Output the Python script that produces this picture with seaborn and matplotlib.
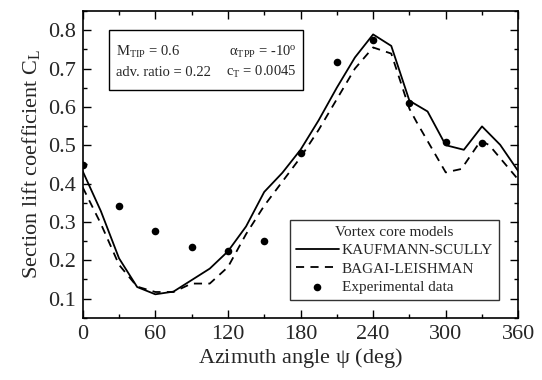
import matplotlib
matplotlib.use("Agg")
import matplotlib.pyplot as plt
import seaborn as sns
import pandas as pd
from matplotlib.patches import Rectangle
from matplotlib.ticker import MultipleLocator

# Data
ks_psi = [0, 15, 30, 45, 60, 75, 90, 105, 120, 135, 150, 165, 180, 195, 210, 225, 240, 255, 270, 285, 300, 315, 330, 345, 360]
ks_cl = [0.432, 0.328, 0.205, 0.130, 0.111, 0.118, 0.148, 0.178, 0.223, 0.288, 0.378, 0.428, 0.488, 0.565, 0.650, 0.729, 0.789, 0.759, 0.616, 0.588, 0.500, 0.488, 0.549, 0.501, 0.432]
bl_psi = [0, 15, 30, 45, 60, 75, 90, 105, 120, 135, 150, 165, 180, 195, 210, 225, 240, 255, 270, 276, 300, 313, 329, 336, 360]
bl_cl = [0.390, 0.295, 0.188, 0.131, 0.117, 0.117, 0.139, 0.139, 0.182, 0.268, 0.342, 0.405, 0.468, 0.540, 0.620, 0.700, 0.755, 0.739, 0.595, 0.560, 0.429, 0.438, 0.512, 0.500, 0.410]
exp_psi = [0, 30, 60, 90, 120, 150, 180, 210, 240, 270, 300, 330]
exp_cl = [0.449, 0.341, 0.276, 0.234, 0.223, 0.249, 0.480, 0.718, 0.774, 0.611, 0.509, 0.507]

sns.set_style("ticks")
plt.rcParams['font.family'] = ['Liberation Serif', 'DejaVu Serif']
plt.rcParams['mathtext.fontset'] = 'custom'
plt.rcParams['mathtext.rm'] = 'Liberation Serif'
plt.rcParams['mathtext.it'] = 'Liberation Serif:italic'
plt.rcParams['mathtext.sf'] = 'Liberation Serif'

fig = plt.figure(figsize=(5.42, 3.8), dpi=100)
ax = fig.add_axes([0.1526, 0.164, 0.8037, 0.807])

ks = pd.DataFrame({"psi": ks_psi, "cl": ks_cl})
bl = pd.DataFrame({"psi": bl_psi, "cl": bl_cl})
ex = pd.DataFrame({"psi": exp_psi, "cl": exp_cl})

sns.lineplot(data=ks, x="psi", y="cl", ax=ax, color="black", lw=1.3,
             label="KAUFMANN-SCULLY", estimator=None, sort=False)
sns.lineplot(data=bl, x="psi", y="cl", ax=ax, color="black", lw=1.3,
             dashes=False, label="BAGAI-LEISHMAN", estimator=None, sort=False)
ax.lines[-1].set_linestyle((0, (4.5, 3.5)))
sns.scatterplot(data=ex, x="psi", y="cl", ax=ax, color="black", s=30,
                edgecolor="black", linewidth=0, label="Experimental data", zorder=5)

ax.set_xlim(0, 360)
ax.set_ylim(0.05, 0.85)
ax.xaxis.set_major_locator(MultipleLocator(60))
ax.xaxis.set_minor_locator(MultipleLocator(30))
ax.yaxis.set_major_locator(MultipleLocator(0.1))
ax.yaxis.set_minor_locator(MultipleLocator(0.05))
ax.set_yticks([0.1, 0.2, 0.3, 0.4, 0.5, 0.6, 0.7, 0.8])
ax.set_yticklabels(["0.1", "0.2", "0.3", "0.4", "0.5", "0.6", "0.7", "0.8"])
ax.tick_params(which="both", direction="in", top=True, right=True, labelsize=16,
               width=1.0, color="black", pad=5)
ax.tick_params(which="major", length=6)
ax.tick_params(which="minor", length=3)
for s in ax.spines.values():
    s.set_linewidth(1.2)
    s.set_color("black")

ax.set_xlabel(r"Azimuth angle $\mathrm{\psi}$ (deg)", fontsize=16, labelpad=2)
ax.set_ylabel(r"Section lift coefficient C$_\mathrm{L}$", fontsize=16, labelpad=4)

# parameter box
ax.add_patch(Rectangle((0.060, 0.742), 0.445, 0.196, transform=ax.transAxes,
                       fill=False, edgecolor="black", lw=1.0, zorder=6))
fs = 10.5
ax.text(0.0757, 0.866, r"M$_\mathrm{TIP}$ = 0.6", transform=ax.transAxes,
        ha="left", va="center", fontsize=fs)
ax.text(0.491, 0.866, r"$\mathrm{\alpha}_\mathrm{TPP}$ = -10$^\mathrm{o}$", transform=ax.transAxes,
        ha="right", va="center", fontsize=fs)
ax.text(0.0757, 0.800, "adv. ratio = 0.22", transform=ax.transAxes,
        ha="left", va="center", fontsize=fs)
ax.text(0.491, 0.800, r"c$_\mathrm{T}$ = 0.0045", transform=ax.transAxes,
        ha="right", va="center", fontsize=fs)

leg = ax.legend(title="Vortex core models", loc="lower right",
                bbox_to_anchor=(0.956, 0.058), borderaxespad=0, fontsize=11,
                title_fontsize=11, frameon=True, fancybox=False, shadow=False,
                handlelength=2.8, handletextpad=0.2, labelspacing=0.3,
                borderpad=0.4)
leg.get_frame().set_edgecolor("black")
leg.get_frame().set_linewidth(1.0)

fig.savefig("out.png", dpi=100)
